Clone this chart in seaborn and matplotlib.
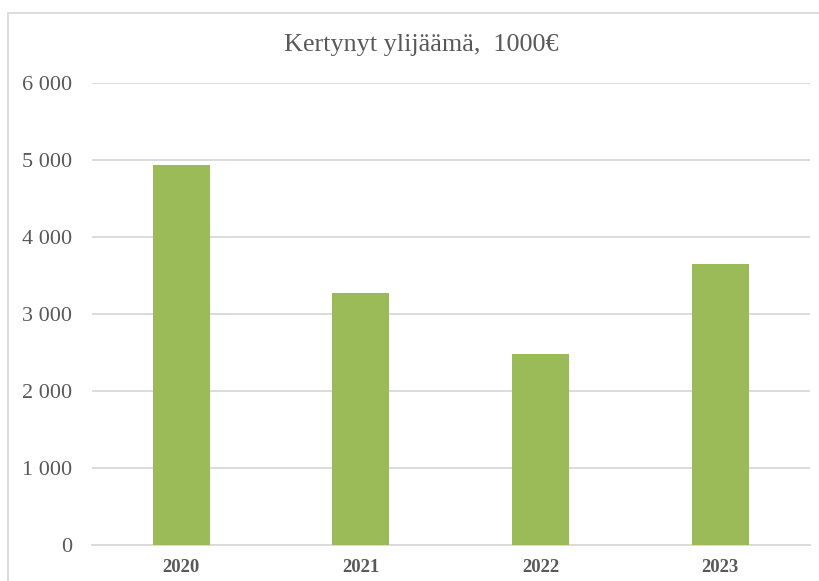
import pandas as pd
import numpy as np
import matplotlib
matplotlib.use("Agg")
import matplotlib.pyplot as plt
import matplotlib.patches as mpatches
from matplotlib.ticker import FuncFormatter
import seaborn as sns

# ===============================
# DATA
# ===============================
years = ["2020", "2021", "2022", "2023"]
surplus = [4939, 3278, 2487, 3643]
title = "Kertynyt ylijäämä,  1000€"

df = pd.DataFrame({"year": years, "surplus": surplus})

# ===============================
# STYLE
# ===============================
sns.set_style("white")
plt.rcParams['font.family'] = ['Liberation Serif', 'DejaVu Serif']
text_col = "#595959"
grid_col = "#d9d9d9"

fig = plt.figure(figsize=(8.19, 5.81), dpi=100)
ax = fig.add_axes([91.5 / 819, 1 - 545 / 581, (810 - 91.5) / 819, (545 - 83) / 581])

sns.barplot(data=df, x="year", y="surplus", color="#9BBB59", saturation=1,
            width=0.317, linewidth=0, ax=ax, zorder=3)

ax.set_ylim(0, 6000)
ax.set_yticks(np.arange(0, 6001, 1000))
ax.yaxis.set_major_formatter(FuncFormatter(lambda v, p: f"{int(v):,}".replace(",", " ")))
ax.grid(axis="y", color=grid_col, lw=1.3, zorder=0)
ax.set_axisbelow(True)
for s in ["top", "right", "left"]:
    ax.spines[s].set_visible(False)
ax.spines["bottom"].set_color(grid_col)
ax.spines["bottom"].set_linewidth(1.3)

ax.tick_params(axis="y", length=0, pad=14, labelsize=16, labelcolor=text_col)
ax.tick_params(axis="x", length=0, pad=10, labelsize=13.5, labelcolor=text_col)
for lbl in ax.get_xticklabels():
    lbl.set_fontweight("bold")
ax.set_xlabel("")
ax.set_ylabel("")

fig.text(421.7 / 819, 1 - 45 / 581, title, ha="center", va="center",
         fontsize=18.8, color=text_col)

# chart frame (cropped at right and bottom)
fig.patches.append(mpatches.Rectangle((8 / 819, -0.1), 1.2, 1 - 13 / 581 + 0.1,
                                      transform=fig.transFigure, fill=False,
                                      edgecolor=grid_col, lw=1.3))

fig.savefig("out.png", dpi=100)
